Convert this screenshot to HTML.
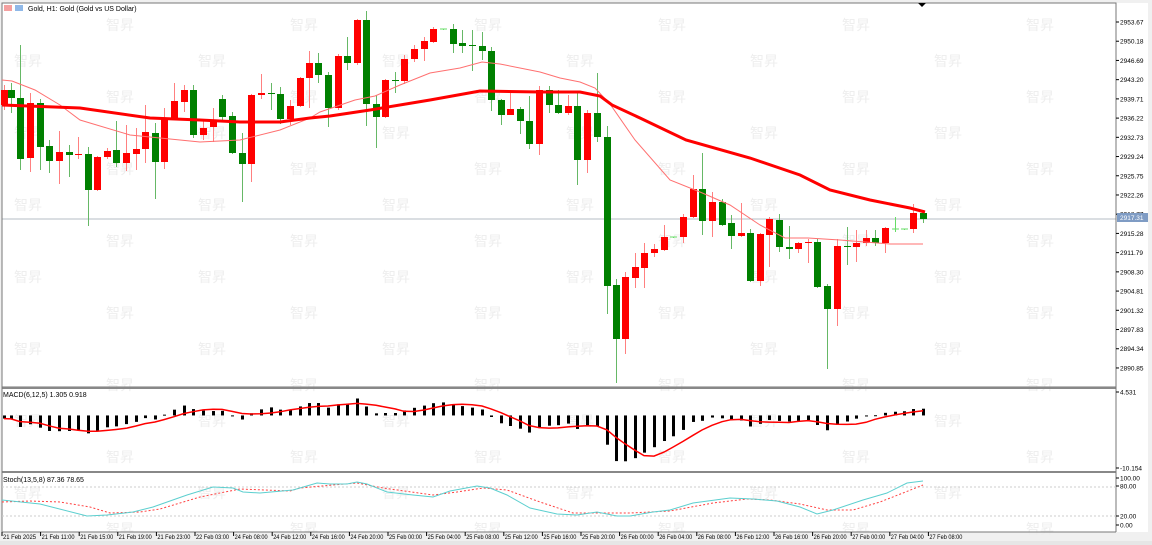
<!DOCTYPE html>
<html><head><meta charset="utf-8"><style>
html,body{margin:0;padding:0;background:#f0f0f0;width:1152px;height:545px;overflow:hidden}
svg{display:block;font-family:"Liberation Sans","Noto Sans CJK SC",sans-serif}
</style></head><body>
<svg id="s" width="1152" height="545" viewBox="0 0 1152 545" xmlns="http://www.w3.org/2000/svg">
<rect x="0" y="0" width="1152" height="545" fill="#f0f0f0"/>
<rect x="2" y="3" width="1146" height="529" fill="#fff"/>
<g id="wm" fill="#eeeeee" font-size="14"></g>
<g id="main"></g>
<text x="28" y="11" font-size="7" fill="#000">Gold, H1:  Gold (Gold vs US Dollar)</text>
<rect x="4" y="5" width="8" height="6" fill="#f4a0a0"/><rect x="15" y="5" width="8" height="6" fill="#8fb8e8"/>
<text x="3" y="397" font-size="7" fill="#000">MACD(6,12,5) 1.305 0.918</text>
<text x="3" y="482" font-size="7" fill="#000">Stoch(13,5,8) 87.36 78.65</text>
</svg>
<script>
const S=document.getElementById('s'),M=document.getElementById('main'),W=document.getElementById('wm');
const NS='http://www.w3.org/2000/svg';
function el(t,a,p){const e=document.createElementNS(NS,t);for(const k in a)e.setAttribute(k,a[k]);(p||M).appendChild(e);return e;}
for(let cx=14,c=0;cx<1110;cx+=92,c++){for(let y=(c%2?22:58);y<530;y+=72){const t=el('text',{x:cx,y:y+8},W);t.textContent='\u667A\u6607';}}
el('line',{x1:2,y1:219,x2:1116,y2:219,stroke:'#b4bcc4','stroke-width':1});
el('rect',{x:2,y:3,width:1114,height:384,fill:'none',stroke:'#777','stroke-width':1});
el('line',{x1:2,y1:388,x2:1116,y2:388,stroke:'#888','stroke-width':2});
el('line',{x1:2,y1:472,x2:1116,y2:472,stroke:'#888','stroke-width':2});
el('line',{x1:2,y1:532,x2:1116,y2:532,stroke:'#777','stroke-width':1});
el('line',{x1:1116,y1:3,x2:1116,y2:532,stroke:'#777','stroke-width':1});
el('line',{x1:2,y1:3,x2:2,y2:532,stroke:'#777','stroke-width':1});
el('line',{x1:2,y1:487,x2:1116,y2:487,stroke:'#ccc','stroke-dasharray':'2,2'});
el('line',{x1:2,y1:516,x2:1116,y2:516,stroke:'#ccc','stroke-dasharray':'2,2'});
el('path',{d:'M918 3 L926 3 L922 7 Z',fill:'#000'});
const pl=['2953.67','2950.18','2946.69','2943.20','2939.71','2936.22','2932.73','2929.24','2925.75','2922.26','2918.77','2915.28','2911.79','2908.30','2904.81','2901.32','2897.83','2894.34','2890.85'];
pl.forEach((t,i)=>{const y=22+i*19.22;el('line',{x1:1116,y1:y,x2:1119,y2:y,stroke:'#000'});const e=el('text',{x:1120,y:y+2.5,'font-size':6.5,fill:'#000'});e.textContent=t;});
el('rect',{x:1117,y:213,width:31,height:9,fill:'#7f9cc4'});
let tt=el('text',{x:1120,y:220,'font-size':6.5,fill:'#fff'});tt.textContent='2917.31';
[['4.531',392],['-10.154',468],['100.00',478],['80.00',486],['20.00',516],['0.00',525]].forEach(([t,y])=>{el('line',{x1:1116,y1:y,x2:1119,y2:y,stroke:'#000'});const e=el('text',{x:1120,y:y+2.5,'font-size':6.5,fill:'#000'});e.textContent=t;});
const tl=['21 Feb 2025','21 Feb 11:00','21 Feb 15:00','21 Feb 19:00','21 Feb 23:00','22 Feb 03:00','24 Feb 08:00','24 Feb 12:00','24 Feb 16:00','24 Feb 20:00','25 Feb 00:00','25 Feb 04:00','25 Feb 08:00','25 Feb 12:00','25 Feb 16:00','25 Feb 20:00','26 Feb 00:00','26 Feb 04:00','26 Feb 08:00','26 Feb 12:00','26 Feb 16:00','26 Feb 20:00','27 Feb 00:00','27 Feb 04:00','27 Feb 08:00'];
tl.forEach((t,i)=>{const x=2+i*38.6;el('line',{x1:x,y1:532,x2:x,y2:536,stroke:'#000'});const e=el('text',{x:x+1,y:539,'font-size':6,fill:'#000',textLength:33,lengthAdjust:'spacingAndGlyphs'});e.textContent=t;});
el('rect',{x:0,y:541,width:1152,height:4,fill:'#e6e6e6'});
const C=[[4,90,105,85,110,'r'],[11,90,98,83,113,'g'],[20,98,159,45,170,'g'],[30,103,158,93,172,'r'],[40,103,147,99,170,'g'],[49,146,161,140,173,'g'],[59,152,161,131,184,'r'],[69,152,155,145,177,'g'],[78,154,155,137,159,'r'],[88,154,190,147,226,'g'],[97,157,190,156,191,'r'],[107,151,157,148,159,'r'],[116,150,163,121,167,'g'],[126,153,163,125,171,'r'],[136,149,154,128,170,'r'],[145,132,149,105,163,'r'],[155,133,162,123,199,'g'],[164,118,162,108,169,'r'],[174,101,118,83,112,'r'],[184,90,102,85,112,'r'],[193,90,135,85,138,'g'],[203,128,135,120,140,'r'],[213,122,127,108,142,'r'],[222,99,117,95,120,'g'],[232,116,153,112,154,'g'],[242,153,164,133,202,'g'],[251,95,164,94,182,'r'],[261,93,95,74,99,'r'],[271,93,94,83,110,'g'],[280,94,119,87,124,'g'],[290,106,119,100,125,'r'],[300,78,106,77,107,'r'],[309,63,78,51,108,'r'],[318,63,75,53,83,'g'],[328,75,108,72,127,'g'],[338,56,108,54,110,'r'],[347,56,63,37,70,'g'],[357,20,63,19,65,'r'],[366,20,104,11,126,'g'],[376,104,117,95,148,'g'],[385,80,117,79,118,'r'],[395,80,81,72,93,'g'],[404,59,81,55,84,'r'],[414,49,59,45,62,'r'],[424,41,49,37,61,'r'],[433,29,42,27,43,'r'],[443,29,30,29,30,'l'],[453,29,44,24,53,'g'],[462,43,46,30,53,'g'],[472,45,46,30,71,'g'],[482,46,51,32,60,'g'],[491,51,100,47,111,'g'],[501,100,115,99,125,'g'],[510,109,115,90,115,'r'],[520,109,121,107,134,'g'],[529,121,144,96,149,'g'],[539,90,144,86,155,'r'],[549,90,105,86,113,'g'],[558,105,113,90,114,'g'],[568,106,113,95,115,'r'],[577,106,160,92,185,'g'],[587,113,160,110,173,'r'],[597,113,137,73,142,'g'],[607,137,286,126,314,'g'],[616,285,339,279,383,'g'],[625,277,339,272,354,'r'],[635,267,278,253,288,'r'],[644,253,268,243,288,'r'],[654,249,253,244,257,'r'],[664,237,250,225,251,'r'],[673,237,238,237,238,'l'],[683,217,237,214,243,'r'],[693,189,217,175,218,'r'],[702,189,221,153,235,'g'],[712,202,221,192,237,'r'],[722,202,225,199,226,'g'],[731,223,236,215,249,'g'],[741,233,236,203,237,'r'],[750,233,281,229,282,'g'],[760,234,281,233,286,'r'],[769,219,235,217,267,'r'],[779,220,247,214,252,'g'],[789,247,249,226,259,'g'],[798,243,249,242,253,'r'],[808,242,243,239,263,'r'],[817,242,287,239,288,'g'],[827,286,309,284,369,'g'],[837,246,309,239,326,'r'],[847,246,247,227,265,'g'],[856,243,247,230,262,'r'],[866,238,243,230,246,'r'],[875,238,243,230,246,'g'],[885,228,243,227,253,'r'],[895,229,230,217,232,'l'],[904,229,230,229,230,'l'],[913,213,229,204,233,'r'],[923,213,219,210,223,'g']];
const col={r:'#ff0000',g:'#008000',l:'#66dd66'},wc={r:'#ff8080',g:'#66b866',l:'#66dd66'};
const thick=[[2,105],[80,108],[150,118],[200,120],[240,122],[280,122],[310,118],[330,116],[370,110],[430,100],[480,91],[540,92],[580,92],[600,96],[612,105],[640,118],[686,140],[750,158],[800,175],[830,190],[870,200],[910,208],[925,212]];
const thin=[[2,80],[12,81],[35,90],[60,105],[80,120],[130,135],[200,142],[240,140],[280,130],[310,118],[320,112],[355,100],[375,96],[400,85],[430,73],[460,68],[482,62],[500,64],[540,72],[560,78],[580,82],[595,88],[610,104],[635,140],[670,180],[700,192],[730,205],[760,225],[785,238],[808,238],[840,240],[890,244],[923,244]];
C.forEach(c=>{const[x,bt,bb,wt,wb,k]=c;el('line',{x1:x+.5,y1:wt,x2:x+.5,y2:wb,stroke:wc[k],'stroke-width':1});if(k=='l')el('line',{x1:x-3,y1:bt,x2:x+4,y2:bt,stroke:col.l});else el('rect',{x:x-3,y:bt,width:7,height:Math.max(1,bb-bt),fill:col[k]});});
el('polyline',{points:thin.map(p=>p.join(',')).join(' '),fill:'none',stroke:'#ff7070','stroke-width':1});
el('polyline',{points:thick.map(p=>p.join(',')).join(' '),fill:'none',stroke:'#ff0000','stroke-width':3});
const K=5.508;
const cl=C.map(c=>-(c[5]=='r'?c[1]:c[2])/K);
function ema(a,n){const k=2/(n+1);let r=[],v=a[0];a.forEach((x,i)=>{v=i?x*k+v*(1-k):x;r.push(v);});return r;}
const e6=ema(cl,6),e12=ema(cl,12),md=e6.map((v,i)=>v-e12[i]-0.6*Math.exp(-i/8));
const sg=md.map((v,i)=>{let s=0,n=0;for(let j=Math.max(0,i-4);j<=i;j++){s+=md[j];n++;}return s/n;});
const my=v=>392+(4.531-v)*5.175;
C.forEach((c,i)=>{const y0=my(0),y1=my(md[i]);el('rect',{x:c[0]-1,y:Math.min(y0,y1),width:3,height:Math.max(1,Math.abs(y1-y0)),fill:'#000'});});
el('polyline',{points:C.map((c,i)=>c[0]+','+my(sg[i]).toFixed(1)).join(' '),fill:'none',stroke:'#ff0000','stroke-width':1.5});
const sm=[[2,500],[40,504],[87,516],[107,515],[133,512],[153,507],[187,495],[213,487],[233,488],[243,492],[260,493],[293,490],[317,483],[330,484],[347,484],[357,482],[367,484],[387,492],[413,495],[433,497],[450,491],[477,486],[490,488],[507,495],[530,508],[557,514],[577,515],[597,512],[617,516],[630,516],[653,512],[670,510],[693,503],[730,498],[753,499],[777,501],[800,507],[817,514],[833,510],[863,500],[887,493],[907,483],[923,481]];
const ss=[[2,502],[30,501],[60,502],[90,507],[110,513],[140,512],[160,509],[200,497],[240,489],[290,491],[300,488],[333,485],[357,483],[383,488],[433,495],[457,492],[483,488],[507,490],[540,502],[573,513],[600,513],[630,513],[670,511],[713,503],[747,499],[770,500],[800,504],[827,510],[853,510],[880,502],[903,493],[923,485]];
el('polyline',{points:ss.map(p=>p.join(',')).join(' '),fill:'none',stroke:'#ff4040','stroke-width':1,'stroke-dasharray':'2,2'});
el('polyline',{points:sm.map(p=>p.join(',')).join(' '),fill:'none',stroke:'#5ccfcf','stroke-width':1});
</script>
</body></html>
